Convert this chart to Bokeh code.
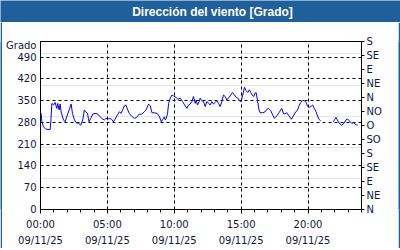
from bokeh.plotting import figure
from bokeh.layouts import column, row
from bokeh.models import Range1d, LinearAxis, FixedTicker, Grid
from bokeh.core.properties import value
from bokeh.embed import file_html
from bokeh.resources import INLINE

title_text = "Dirección del viento [Grado]"
y_unit = "Grado"

hours = [0.05, 0.10, 0.22, 0.40, 0.72, 0.77, 0.85, 0.97, 1.09, 1.22, 1.29, 1.39, 1.47, 1.54,
         1.72, 1.84, 2.01, 2.14, 2.29, 2.39, 2.54, 2.66, 2.84, 3.01, 3.16, 3.28, 3.38, 3.51,
         3.63, 3.76, 3.91, 4.08, 4.28, 4.45, 4.63, 4.78, 4.90, 5.02, 5.15, 5.32, 5.45, 5.57,
         5.75, 5.90, 6.02, 6.14, 6.27, 6.39, 6.52, 6.64, 6.82, 7.01, 7.19, 7.39, 7.56, 7.76,
         7.89, 8.08, 8.21, 8.33, 8.51, 8.71, 8.88, 9.03, 9.15, 9.25, 9.33, 9.40, 9.50, 9.58,
         9.70, 9.83, 9.95, 10.12, 10.27, 10.45, 10.62, 10.77, 10.95, 11.07, 11.19, 11.32,
         11.44, 11.57, 11.64, 11.74, 11.87, 11.94, 12.06, 12.19, 12.31, 12.44, 12.56, 12.69,
         12.81, 12.94, 13.06, 13.18, 13.31, 13.43, 13.56, 13.68, 13.81, 13.93, 14.05, 14.18,
         14.35, 14.50, 14.63, 14.75, 14.88, 15.00, 15.12, 15.25, 15.37, 15.50, 15.62, 15.72,
         15.82, 15.94, 16.04, 16.12, 16.22, 16.34, 16.42, 16.62, 16.79, 16.92, 17.04, 17.21,
         17.36, 17.49, 17.66, 17.86, 18.04, 18.16, 18.28, 18.41, 18.58, 18.76, 18.91, 19.08,
         19.20, 19.33, 19.45, 19.60, 19.73, 19.85, 19.98, 20.10, 20.22, 20.35, 20.47, 20.60,
         20.72, 20.82, 20.95, 21.40, 21.89, 22.01, 22.09, 22.19, 22.34, 22.51, 22.69, 22.84,
         22.96, 23.08, 23.26, 23.43, 23.58, 23.71]
grados = [309, 282, 266, 258, 257, 282, 341, 336, 344, 325, 341, 320, 339, 314,
          288, 282, 304, 320, 339, 309, 288, 279, 277, 271, 288, 320, 314, 309,
          282, 293, 307, 309, 307, 298, 291, 288, 293, 290, 293, 290, 282, 290,
          304, 314, 309, 320, 333, 336, 320, 309, 300, 293, 296, 307, 306, 314,
          320, 339, 333, 311, 311, 309, 300, 282, 290, 298, 288, 293, 309, 341,
          358, 368, 365, 361, 354, 358, 347, 336, 325, 336, 339, 347,
          363, 341, 352, 336, 347, 358, 350, 347, 331, 347, 341, 336,
          347, 339, 344, 350, 341, 331, 347, 368, 363, 352, 358, 365,
          376, 368, 361, 358, 350, 347, 368, 393, 382, 376, 385, 376,
          368, 363, 374, 376, 352, 320, 311, 311, 314, 322, 325, 318,
          304, 293, 301, 313, 325, 309, 307, 311, 301, 290, 301, 314,
          318, 333, 344, 350, 350, 344, 331, 329, 331, 336, 325, 314,
          300, 290, 285, float("nan"), 282, 290, 296, 288, 277, 271, 277, 288,
          291, 285, 277, 279, 273, 271]

left_ticks = [0, 70, 140, 210, 280, 350, 420, 490]
unit_tick = 526
dir_ticks = [0, 45, 90, 135, 180, 225, 270, 315, 360, 405, 450, 495, 540]
dir_labels = ["N", "NE", "E", "SE", "S", "SO", "O", "NO", "N", "NE", "E", "SE", "S"]
x_ticks = [0, 5, 10, 15, 20]
time_labels = ["00:00", "05:00", "10:00", "15:00", "20:00"]
date_labels = ["09/11/25", "09/11/25", "09/11/25", "09/11/25", "09/11/25"]
x_minor = list(range(0, 25))

BLUE = "#1f5f9c"
TXT = "#101838"
FONT = "DejaVu Sans"


def strip(w, h):
    s = figure(width=w, height=h, output_backend="svg", toolbar_location=None,
               min_border=0, x_axis_location=None, y_axis_location=None)
    s.background_fill_color = BLUE
    s.border_fill_color = BLUE
    s.outline_line_color = None
    s.grid.visible = False
    return s


# title bar
t = figure(width=400, height=22, output_backend="svg", toolbar_location=None,
           min_border=0, x_axis_location=None, y_axis_location=None,
           x_range=Range1d(0, 400), y_range=Range1d(0, 22))
t.background_fill_color = BLUE
t.border_fill_color = BLUE
t.outline_line_color = None
t.grid.visible = False
t.text(x=[212], y=[11], text=[title_text], text_align="center",
       text_baseline="middle", text_font=value("Liberation Sans"),
       text_font_style="bold", text_font_size="12px", text_color="white")

# main chart
p = figure(width=396, height=226, output_backend="svg", toolbar_location=None,
           x_range=Range1d(0, 24), y_range=Range1d(0, 540),
           min_border_left=38, min_border_right=37, min_border_top=19,
           min_border_bottom=37, x_axis_location=None, y_axis_location=None)
p.background_fill_color = "white"
p.border_fill_color = "white"
p.outline_line_color = "black"
p.outline_line_alpha = 1.0

ya = LinearAxis(ticker=FixedTicker(ticks=left_ticks + [unit_tick], minor_ticks=[]),
                major_label_overrides={unit_tick: y_unit})
ya.major_tick_in = 0
ya.major_tick_out = 0
ya.minor_tick_out = 0
ya.axis_line_color = "black"
ya.major_label_text_font = FONT
ya.major_label_text_font_size = "10px"
ya.major_label_text_color = TXT
ya.major_label_standoff = 4
p.add_layout(ya, "left")

ra = LinearAxis(ticker=FixedTicker(ticks=dir_ticks, minor_ticks=[]),
                major_label_overrides={t_: l for t_, l in zip(dir_ticks, dir_labels)})
ra.major_tick_in = 0
ra.major_tick_out = 3
ra.minor_tick_out = 0
ra.axis_line_color = "black"
ra.major_tick_line_color = "black"
ra.major_label_text_font = FONT
ra.major_label_text_font_size = "10px"
ra.major_label_text_color = TXT
ra.major_label_standoff = 2
p.add_layout(ra, "right")

xa = LinearAxis(ticker=FixedTicker(ticks=x_ticks, minor_ticks=x_minor),
                major_label_overrides={t_: l for t_, l in zip(x_ticks, time_labels)})
xa.major_tick_in = 0
xa.major_tick_out = 4
xa.minor_tick_in = 0
xa.minor_tick_out = 3
xa.axis_line_color = "black"
xa.major_label_text_font = FONT
xa.major_label_text_font_size = "10px"
xa.major_label_text_color = TXT
xa.major_label_standoff = 5
p.add_layout(xa, "below")

xd = LinearAxis(ticker=FixedTicker(ticks=x_ticks, minor_ticks=[]),
                major_label_overrides={t_: l for t_, l in zip(x_ticks, date_labels)})
xd.major_tick_in = 0
xd.major_tick_out = 0
xd.minor_tick_out = 0
xd.axis_line_color = None
xd.major_label_text_font = FONT
xd.major_label_text_font_size = "10px"
xd.major_label_text_color = TXT
xd.major_label_standoff = 2
p.add_layout(xd, "below")

p.add_layout(Grid(dimension=0, ticker=FixedTicker(ticks=x_ticks[1:]),
                  grid_line_color="black", grid_line_dash="3 3"))
p.add_layout(Grid(dimension=1, ticker=FixedTicker(ticks=left_ticks[1:]),
                  grid_line_color="black", grid_line_dash="3 3"))

p.line(hours, grados, line_color="#0000ff", line_width=1)

layout = column(t,
                row(strip(2, 226), p, strip(2, 226), spacing=0),
                strip(400, 2), spacing=0)

open("out.html", "w").write(file_html(layout, INLINE))
